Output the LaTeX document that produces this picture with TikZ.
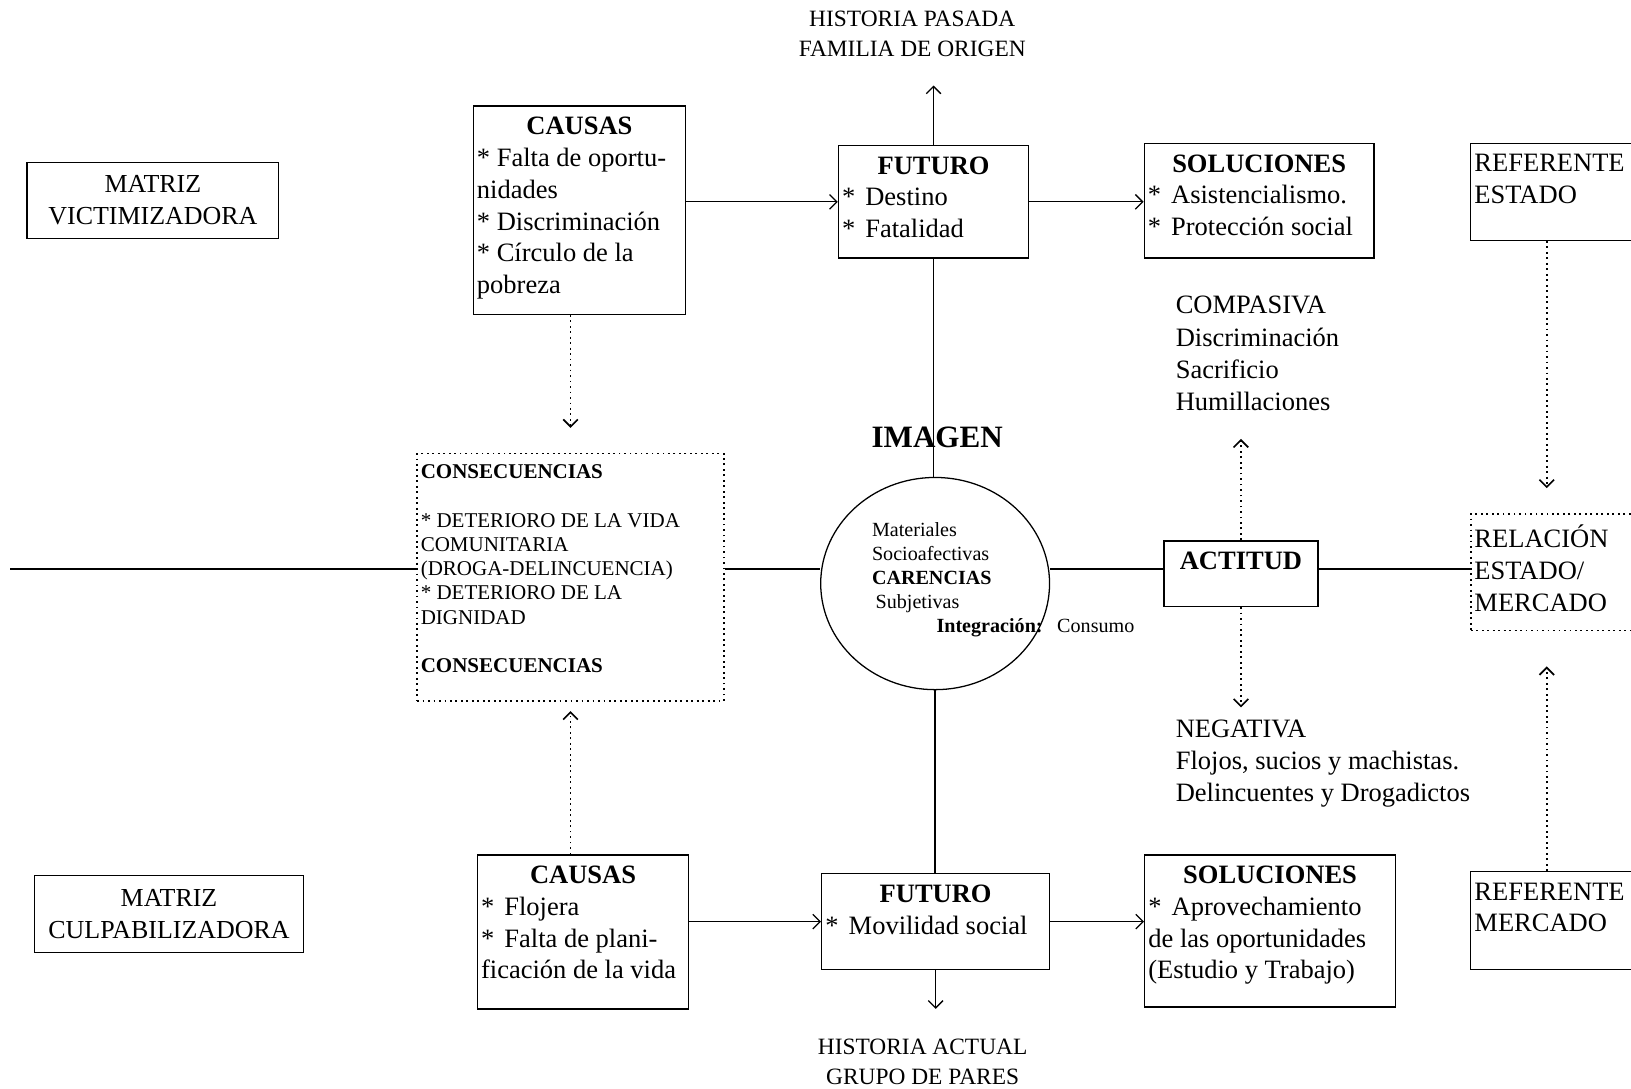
\documentclass[tikz,border=0pt]{standalone}
\usepackage{fontspec}
\setmainfont{Liberation Serif}
\usetikzlibrary{arrows.meta,shapes.geometric}
\newlength\unidad
\setlength\unidad{0.02cm}

\begin{document}
\begin{tikzpicture}[x=0.02cm, y=-0.02cm,
    caja/.style={draw, line width=0.7pt, inner xsep=2pt, inner ysep=6pt, font=\fontsize{14.5}{17.4}\selectfont},
    cajapunto/.style={caja, dash pattern=on 1pt off 2pt, line width=0.9pt},
    texto/.style={inner sep=0pt, align=left, font=\fontsize{14.5}{17.6}\selectfont},
    flecha/.style={line width=0.7pt, -{Straight Barb[length=4pt,width=8pt]}},
    punto/.style={flecha, dash pattern=on 1pt off 2pt, line width=0.9pt},
    linea/.style={line width=0.7pt}]

    % Define box contents (width and height in px)
    \def\caja#1#2#3{\parbox[c][\dimexpr#2\unidad-12pt\relax][t]{\dimexpr#1\unidad-4pt\relax}{\raggedright#3}}
    \def\titulo#1{{\centering\textbf{#1}\par}}
    \def\vin{*\hspace{5.5pt}}

    % Define page area
    \useasboundingbox (0,0) rectangle (1568,1046);
    \clip (0,0) rectangle (1568,1046);

    % Draw matrices
    \node[caja, inner sep=0pt, minimum width=242\unidad, minimum height=73\unidad, align=center,
          font=\fontsize{14.2}{17.6}\selectfont] (mat1) at (147,192.5) {MATRIZ\\VICTIMIZADORA};
    \node[caja, inner sep=0pt, minimum width=259\unidad, minimum height=74\unidad, align=center,
          font=\fontsize{14.2}{17.6}\selectfont] (mat2) at (162.5,879) {MATRIZ\\CULPABILIZADORA};

    % Draw upper row
    \node[caja] (cau1) at (557,202) {\caja{204}{200}{\titulo{CAUSAS}* Falta de oportu-\\nidades\\{}* Discriminación\\{}* Círculo de la\\pobreza}};
    \node[caja] (fut1) at (897.5,194) {\caja{183}{108}{\titulo{FUTURO}\vin Destino\\\vin Fatalidad}};
    \node[caja] (sol1) at (1210.5,193) {\caja{221}{110}{\titulo{SOLUCIONES}\vin Asistencialismo.\\\vin Protección social}};
    \node[caja] (ref1) at (1514,184.5) {\caja{200}{93}{REFERENTE\\ESTADO}};
    \node[texto, align=center, font=\fontsize{12.8}{16.4}\selectfont] (hist1) at (877,32.5) {HISTORIA PASADA\\FAMILIA DE ORIGEN};
    \node[texto, anchor=north west] (comp) at (1130,284.5) {COMPASIVA\\Discriminación\\Sacrificio\\Humillaciones};

    % Draw middle row
    \node[font=\fontsize{17}{20}\selectfont\bfseries] (img) at (901,420) {IMAGEN};
    \node[cajapunto, font=\fontsize{11.5}{13.3}\selectfont] (cons) at (548.5,555) {\caja{295}{238}{\textbf{CONSECUENCIAS}\\[\baselineskip]* DETERIORO DE LA VIDA\\COMUNITARIA\\(DROGA-DELINCUENCIA)\\{}* DETERIORO DE LA\\DIGNIDAD\\[\baselineskip]\textbf{CONSECUENCIAS}}};
    \node[draw, ellipse, line width=0.7pt, minimum width=220\unidad, minimum height=204\unidad] (car) at (899,561) {};
    \node[texto, font=\fontsize{11}{13.2}\selectfont, anchor=north west] (cartxt) at (838,502) {Materiales\\Socioafectivas\\\textbf{CARENCIAS}\\\hspace{2pt}Subjetivas};
    \node[texto, font=\fontsize{11}{13.2}\selectfont, anchor=west] (integ) at (900,603) {\textbf{Integración:}\hspace{8pt}Consumo};
    \node[caja] (act) at (1193,551.5) {\caja{148}{63}{\titulo{ACTITUD}}};
    \node[cajapunto] (rel) at (1514,550) {\caja{200}{112}{RELACIÓN\\ESTADO/\\MERCADO}};
    \node[texto, anchor=north west] (neg) at (1130,691.5) {NEGATIVA\\Flojos, sucios y machistas.\\Delincuentes y Drogadictos};

    % Draw lower row
    \node[caja] (cau2) at (560.5,896) {\caja{203}{148}{\titulo{CAUSAS}\vin Flojera\\\vin Falta de plani-\\ficación de la vida}};
    \node[caja] (fut2) at (899.5,886) {\caja{219}{92}{\titulo{FUTURO}\vin Movilidad social}};
    \node[caja] (sol2) at (1221,895) {\caja{241}{146}{\titulo{SOLUCIONES}\vin Aprovechamiento\\de las oportunidades\\(Estudio y Trabajo)}};
    \node[caja] (ref2) at (1514,885) {\caja{200}{94}{REFERENTE\\MERCADO}};
    \node[texto, align=center, font=\fontsize{12.8}{16.4}\selectfont] (hist2) at (887,1021) {HISTORIA ACTUAL\\GRUPO DE PARES};

    % Define free ends
    \coordinate (izq) at (10,547);
    \coordinate (ejeref) at (1487,0);

    % Draw horizontal axis
    \draw[linea] (izq) -- (cons.west |- izq);
    \draw[linea] (cons.east |- izq) -- (car.west |- izq);
    \draw[linea] (car.east |- izq) -- (act.west |- izq);
    \draw[linea] (act.east |- izq) -- (rel.west |- izq);

    % Draw vertical axis
    \draw[flecha, shorten >=15.6pt] (fut1.north) -- (fut1.north |- hist1.south);
    \draw[linea] (fut1.south) -- (fut1.south |- car.north);
    \draw[linea] (car.south) -- (car.south |- fut2.north);
    \draw[flecha, shorten >=16.4pt] (fut2.south) -- (fut2.south |- hist2.north);

    % Draw arrows between boxes
    \draw[flecha] (cau1.east |- fut1.west) -- (fut1.west);
    \draw[flecha] (fut1.east) -- (fut1.east -| sol1.west);
    \draw[flecha] (cau2.east |- fut2.west) -- (fut2.west);
    \draw[flecha] (fut2.east) -- (fut2.east -| sol2.west);

    % Draw dotted arrows
    \draw[punto, shorten >=13.6pt] (cau1.south -| cons.north) -- (cons.north);
    \draw[punto, shorten >=5pt] (cau2.north -| cons.south) -- (cons.south);
    \draw[punto, shorten >=15.3pt] (act.north) -- (act.north |- comp.south);
    \draw[punto, shorten >=6.5pt] (act.south) -- (act.south |- neg.north);
    \draw[punto, shorten >=13.6pt] (ref1.south -| ejeref) -- (rel.north -| ejeref);
    \draw[punto, shorten >=19.3pt] (ref2.north -| ejeref) -- (rel.south -| ejeref);

\end{tikzpicture}
\end{document}
